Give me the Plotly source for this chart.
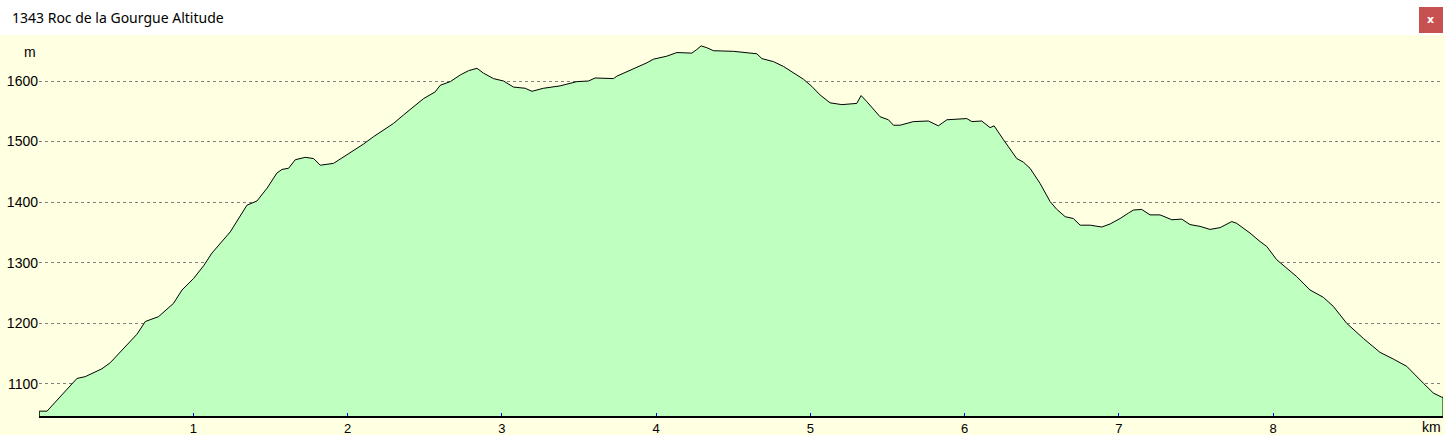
import plotly.graph_objects as go

# elevation profile
distance_km = [
    0.002, 0.052, 0.246, 0.300, 0.408, 0.462, 0.635, 0.689, 0.775, 0.872,
    0.927, 1.002, 1.067, 1.121, 1.240, 1.348, 1.413, 1.478, 1.542, 1.575,
    1.618, 1.661, 1.726, 1.780, 1.823, 1.909, 1.953, 2.017, 2.104, 2.168,
    2.233, 2.298, 2.363, 2.428, 2.493, 2.568, 2.601, 2.666, 2.731, 2.784,
    2.839, 2.881, 2.946, 3.011, 3.076, 3.152, 3.195, 3.270, 3.378, 3.487,
    3.562, 3.605, 3.724, 3.746, 3.800, 3.864, 3.940, 3.983, 4.070, 4.135,
    4.232, 4.264, 4.292, 4.329, 4.372, 4.502, 4.588, 4.653, 4.686, 4.761,
    4.826, 4.890, 4.955, 5.010, 5.063, 5.128, 5.204, 5.301, 5.329, 5.366,
    5.452, 5.506, 5.539, 5.582, 5.668, 5.765, 5.830, 5.885, 5.992, 6.014,
    6.047, 6.111, 6.165, 6.191, 6.252, 6.338, 6.381, 6.424, 6.489, 6.554,
    6.598, 6.652, 6.705, 6.749, 6.814, 6.889, 6.943, 7.008, 7.062, 7.094,
    7.148, 7.202, 7.267, 7.343, 7.408, 7.461, 7.526, 7.591, 7.656, 7.732,
    7.764, 7.850, 7.915, 7.958, 8.023, 8.153, 8.239, 8.325, 8.390, 8.477,
    8.585, 8.693, 8.779, 8.866, 8.974, 9.038, 9.093, 9.101,
]
altitude_m = [
    1055, 1055, 1109, 1112, 1125, 1135, 1182, 1203, 1211, 1233,
    1255, 1274, 1295, 1316, 1351, 1395, 1402, 1423, 1448, 1454,
    1456, 1470, 1474, 1472, 1461, 1464, 1471, 1481, 1496, 1508,
    1519, 1530, 1544, 1558, 1571, 1582, 1593, 1599, 1610, 1617,
    1621, 1613, 1604, 1600, 1590, 1588, 1583, 1588, 1592, 1599,
    1600, 1605, 1604, 1608, 1614, 1621, 1630, 1636, 1641, 1647,
    1646, 1652, 1658, 1655, 1650, 1649, 1647, 1645, 1637, 1632,
    1624, 1614, 1603, 1591, 1577, 1564, 1561, 1563, 1576, 1566,
    1541, 1536, 1527, 1527, 1533, 1534, 1526, 1536, 1537, 1538,
    1533, 1534, 1523, 1526, 1503, 1472, 1466, 1456, 1431, 1401,
    1388, 1376, 1373, 1362, 1362, 1359, 1364, 1373, 1382, 1387,
    1388, 1379, 1379, 1371, 1372, 1363, 1360, 1355, 1358, 1368,
    1365, 1349, 1335, 1327, 1305, 1277, 1255, 1243, 1228, 1200,
    1175, 1152, 1141, 1129, 1101, 1085, 1078, 1078,
]
y_ticks = [1100, 1200, 1300, 1400, 1500, 1600]
x_ticks = [1, 2, 3, 4, 5, 6, 7, 8]

TITLE = "1343 Roc de la Gourgue Altitude"
Y_MIN, Y_MAX = 1047, 1671
BG = "#FFFFE1"
FONT = "Liberation Sans"

# close the outline down to the axis at both ends
line_x = [distance_km[0]] + distance_km + [distance_km[-1]]
line_y = [Y_MIN] + altitude_m + [Y_MIN]

fig = go.Figure()
fig.add_trace(
    go.Scatter(
        x=line_x,
        y=line_y,
        mode="lines",
        line={"color": "black", "width": 1},
        fill="tozeroy",
        fillcolor="#BFFFBF",
        hoverinfo="skip",
    )
)

fig.update_xaxes(
    range=[0, distance_km[-1]],
    tickvals=x_ticks,
    automargin=False,
    showgrid=False,
    zeroline=False,
    showline=True,
    linecolor="black",
    linewidth=1.5,
    ticks="inside",
    ticklen=3,
    tickcolor="#0000FF",
    tickfont={"family": FONT, "size": 13, "color": "black"},
)
fig.update_yaxes(
    range=[Y_MIN, Y_MAX],
    tickvals=y_ticks,
    automargin=False,
    showgrid=True,
    gridcolor="#808080",
    griddash="3px,3px",
    gridwidth=1,
    zeroline=False,
    showline=False,
    ticks="",
    tickfont={"family": FONT, "size": 14, "color": "black"},
)

fig.update_layout(
    width=1445,
    height=435,
    margin={"l": 39, "r": 2, "t": 38, "b": 19},
    paper_bgcolor=BG,
    plot_bgcolor=BG,
    showlegend=False,
    shapes=[
        # white title bar
        {
            "type": "rect", "xref": "paper", "yref": "paper",
            "x0": -0.03, "x1": 1.01, "y0": 1.0079, "y1": 1.11,
            "fillcolor": "white", "line": {"width": 0}, "layer": "above",
        },
        # close button
        {
            "type": "rect", "xref": "paper", "yref": "paper",
            "x0": 0.9829, "x1": 1.0, "y0": 1.0132, "y1": 1.082,
            "fillcolor": "#C75050", "line": {"width": 0}, "layer": "above",
        },
    ],
    annotations=[
        {
            "text": TITLE, "xref": "paper", "yref": "paper",
            "x": -0.0207, "y": 1.053, "xanchor": "left", "yanchor": "middle",
            "showarrow": False,
            "font": {"family": "Noto Sans", "size": 14, "color": "black"},
        },
        {
            "text": "<b>x</b>", "xref": "paper", "yref": "paper",
            "x": 0.99145, "y": 1.049, "xanchor": "center", "yanchor": "middle",
            "showarrow": False,
            "font": {"family": "DejaVu Sans", "size": 11, "color": "white"},
        },
        {
            "text": "m", "xref": "paper", "yref": "paper",
            "x": -0.0064, "y": 0.963, "xanchor": "center", "yanchor": "middle",
            "showarrow": False,
            "font": {"family": FONT, "size": 14, "color": "black"},
        },
        {
            "text": "km", "xref": "paper", "yref": "paper",
            "x": 1.0, "y": -0.028, "xanchor": "right", "yanchor": "middle",
            "showarrow": False,
            "font": {"family": FONT, "size": 14, "color": "black"},
        },
    ],
)

fig.write_html(
    "out.html",
    config={"displayModeBar": False},
    post_script="document.body.style.margin = '0';",
)
